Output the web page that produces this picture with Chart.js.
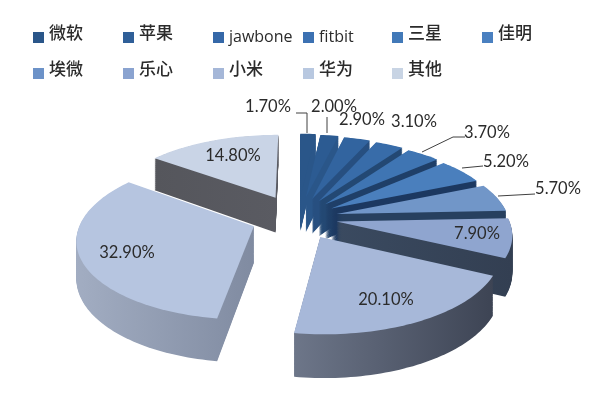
<!DOCTYPE html>
<html>
<head>
<meta charset="utf-8">
<style>
html, body { margin: 0; padding: 0; background: #fff; }
#wrap { width: 600px; height: 400px; }
canvas { display: block; filter: blur(0.55px); }
</style>
<script src="https://cdn.jsdelivr.net/npm/chart.js@4"></script>
</head>
<body>
<div id="wrap"><canvas id="pie" width="600" height="400"></canvas></div>
<script>
// data
const categories = ['微软', '苹果', 'jawbone', 'fitbit', '三星', '佳明', '埃微', '乐心', '小米', '华为', '其他'];
const shares = [1.7, 2.0, 2.9, 3.1, 3.7, 5.2, 5.7, 7.9, 20.1, 32.9, 14.8];

// styles
const topColors = ['#2a5689', '#2c5b92', '#32649f', '#386ca9', '#3f75b3', '#4a7fbd', '#7196c8', '#8fa5cf', '#a7b8d9', '#b6c5e0', '#c9d4e6'];
const legendColors = ['#2a5689', '#2f5f98', '#3568a8', '#3c71b2', '#4279b8', '#4a80c0', '#6c92c8', '#8aa3d0', '#a5b7d8', '#b8c8e0', '#c8d4e4'];
const wallLeft = ['#2a5689', '#2a5689', '#274f80', '#234873', '#1f3f68', '#1c3860', '#27405f', '#3a4a60', '#6d7689', '#a2adc2', '#55565c'];
const wallRight = ['#2a5689', '#2a5689', '#274f80', '#234873', '#1f3f68', '#1c3860', '#27405f', '#333f52', '#3d4454', '#808ba1', '#5a5b62'];
const sliceOffsets = [50, 48, 46, 44, 42, 40, 40, 39, 46, 47, 52];

// where the labels sit: [centre x, centre y]
const labelPos = [[268, 107], [334, 107], [362, 120], [414, 122], [487, 133], [506, 162], [558, 189], [477, 234], [386, 300], [127, 253], [233, 156]];
const leaders = [
  [[307, 133], [307, 113], [296, 113]],
  [[327, 133], [327, 117]],
  null, null,
  [[422, 152], [453, 137], [465, 137]],
  [[462, 168], [483, 166]],
  [[498, 196], [535, 194]],
  null, null, null, null
];
const legendX = [33, 123, 213, 303, 392, 482];
const legendY = [32, 68];

// 3D view
const CX = 298, CY = 218, TILT = 0.45, PERSP = 1200, DEPTH = 36;

function project(u, v) {
  const s = PERSP / (PERSP - v);
  return [CX + u * s, CY + TILT * v * s, s];
}

function sectorPoints(arc) {
  const off = arc.options.offset || 0;
  const mid = (arc.startAngle + arc.endAngle) / 2;
  const ox = Math.cos(mid) * off, oy = Math.sin(mid) * off;
  const pts = [project(ox, oy)];
  const steps = Math.max(4, Math.ceil((arc.endAngle - arc.startAngle) * 40));
  for (let i = 0; i <= steps; i++) {
    const a = arc.startAngle + (arc.endAngle - arc.startAngle) * i / steps;
    pts.push(project(ox + Math.cos(a) * arc.outerRadius, oy + Math.sin(a) * arc.outerRadius));
  }
  return pts;
}

// d is how far down the wall we are, nearer points drop further
function fillPoly(ctx, pts, d, fill) {
  ctx.beginPath();
  pts.forEach((p, i) => i ? ctx.lineTo(p[0], p[1] + d * p[2]) : ctx.moveTo(p[0], p[1] + d * p[2]));
  ctx.closePath();
  ctx.fillStyle = fill;
  ctx.fill();
}

const pie3d = {
  id: 'pie3d',
  beforeDatasetsDraw(chart) {
    const ctx = chart.ctx;
    const arcs = chart.getDatasetMeta(0).data;
    const order = arcs.map((arc, i) => i).sort((a, b) => {
      const ma = (arcs[a].startAngle + arcs[a].endAngle) / 2;
      const mb = (arcs[b].startAngle + arcs[b].endAngle) / 2;
      return Math.sin(ma) - Math.sin(mb);
    });
    order.forEach(i => {
      const pts = sectorPoints(arcs[i]);
      const xs = pts.map(p => p[0]);
      const grad = ctx.createLinearGradient(Math.min(...xs), 0, Math.max(...xs), 0);
      grad.addColorStop(0, wallLeft[i]);
      grad.addColorStop(1, wallRight[i]);
      for (let d = DEPTH; d > 0; d -= 0.75) fillPoly(ctx, pts, d, grad);
      fillPoly(ctx, pts, 0, arcs[i].options.backgroundColor);
    });
    return false; // the flat arcs are replaced by the tilted ones
  },
  afterDraw(chart) {
    const ctx = chart.ctx;
    ctx.save();
    // leader lines
    ctx.strokeStyle = '#404040';
    ctx.lineWidth = 1;
    leaders.forEach(line => {
      if (!line) return;
      ctx.beginPath();
      line.forEach((p, i) => i ? ctx.lineTo(p[0], p[1]) : ctx.moveTo(p[0], p[1]));
      ctx.stroke();
    });
    // value labels
    ctx.fillStyle = '#2b2b2b';
    ctx.font = '16.5px Lato';
    ctx.textAlign = 'center';
    ctx.textBaseline = 'middle';
    shares.forEach((v, i) => ctx.fillText(v.toFixed(2) + '%', labelPos[i][0], labelPos[i][1]));
    // legend, two rows on a fixed grid
    ctx.textAlign = 'left';
    categories.forEach((name, i) => {
      const x = legendX[i % 6], y = legendY[Math.floor(i / 6)];
      ctx.fillStyle = legendColors[i];
      ctx.fillRect(x, y, 11, 11);
      ctx.fillStyle = '#2b2b2b';
      const latin = /^[a-z]+$/.test(name);
      ctx.font = latin ? '16px "Open Sans"' : '500 17px "Noto Sans CJK SC"';
      ctx.fillText(name, x + 16, y + (latin ? 5 : 1));
    });
    ctx.restore();
  }
};

new Chart(document.getElementById('pie'), {
  type: 'pie',
  data: {
    labels: categories,
    datasets: [{
      data: shares,
      backgroundColor: topColors,
      borderWidth: 0,
      offset: sliceOffsets
    }]
  },
  options: {
    responsive: false,
    animation: false,
    radius: 172,
    plugins: { legend: { display: false }, tooltip: { enabled: false } }
  },
  plugins: [pie3d]
});
</script>
</body>
</html>
